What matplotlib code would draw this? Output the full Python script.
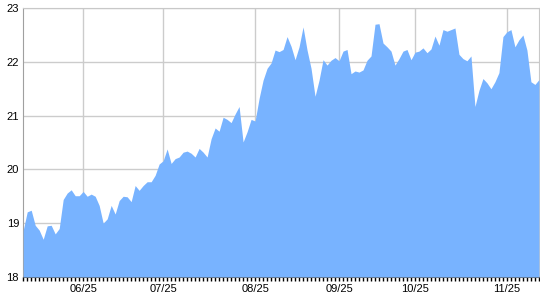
"""
Area chart of a daily price series, mid-May to late November 2025.
"""

import matplotlib.pyplot as plt
import numpy as np

# daily closes, one per trading day
prices = [
    18.87, 19.21, 19.24, 18.96, 18.87, 18.70, 18.95, 18.96, 18.80, 18.90,
    19.44, 19.56, 19.62, 19.51, 19.51, 19.59, 19.50, 19.54, 19.50, 19.33,
    19.00, 19.08, 19.33, 19.17, 19.42, 19.50, 19.49, 19.40, 19.70, 19.61,
    19.70, 19.77, 19.77, 19.89, 20.10, 20.16, 20.38, 20.11, 20.20,
    20.23, 20.32, 20.34, 20.30, 20.23, 20.39, 20.32, 20.23, 20.57, 20.77,
    20.71, 20.97, 20.93, 20.87, 21.03, 21.17, 20.51, 20.70, 20.93, 20.90,
    21.32, 21.66, 21.88, 21.98, 22.22, 22.19, 22.23, 22.47, 22.29, 22.04,
    22.28, 22.65, 22.22, 21.88, 21.36, 21.66, 22.04, 21.94, 22.03, 22.08,
    22.02, 22.20, 22.23, 21.78, 21.83,
    21.81, 21.85, 22.03, 22.11, 22.70, 22.71, 22.35, 22.28, 22.20, 21.94,
    22.06, 22.20, 22.23, 22.04, 22.18, 22.20, 22.26, 22.17, 22.24, 22.48,
    22.31, 22.60, 22.57, 22.60, 22.63, 22.14, 22.06, 22.02, 22.11, 21.17,
    21.47, 21.69, 21.61, 21.50, 21.63, 21.80, 22.47, 22.56, 22.60, 22.28,
    22.41, 22.50, 22.22, 21.63, 21.58, 21.67,
]

# first trading day of each month (index into prices) and its label
month_idx = [15, 35, 58, 79, 98, 121]
month_labels = ["06/25", "07/25", "08/25", "09/25", "10/25", "11/25"]

y_ticks = [18, 19, 20, 21, 22, 23]


def main() -> None:
    plt.rcParams["font.family"] = ["Liberation Sans", "DejaVu Sans"]

    x = np.arange(len(prices))

    fig = plt.figure(figsize=(5.4, 3.0), dpi=100)
    ax = fig.add_axes([0.043, 0.077, 0.955, 0.896])

    ax.fill_between(x, 18, prices, color="#78b3ff", linewidth=0, zorder=3)

    ax.set_xlim(0, len(prices) - 1)
    ax.set_ylim(18, 23)

    ax.set_xticks(month_idx)
    ax.set_xticklabels(month_labels, fontsize=8)
    ax.set_xticks(x, minor=True)
    ax.tick_params(axis="x", which="both", length=3, width=1, color="black",
                   direction="out", pad=2)
    ax.tick_params(axis="x", which="major", length=3)

    ax.set_yticks(y_ticks)
    ax.set_yticklabels([str(v) for v in y_ticks], fontsize=8)
    ax.tick_params(axis="y", length=0, pad=3)

    ax.grid(True, which="major", color="#cccccc", linewidth=1)
    ax.set_axisbelow(True)

    for side in ["top", "right", "left"]:
        ax.spines[side].set_color("#c8c8c8")
    ax.spines["left"].set_color("#a0a0a0")
    ax.spines["bottom"].set_color("#555555")

    fig.savefig("out.png", dpi=100)
    plt.close(fig)


if __name__ == "__main__":
    main()
